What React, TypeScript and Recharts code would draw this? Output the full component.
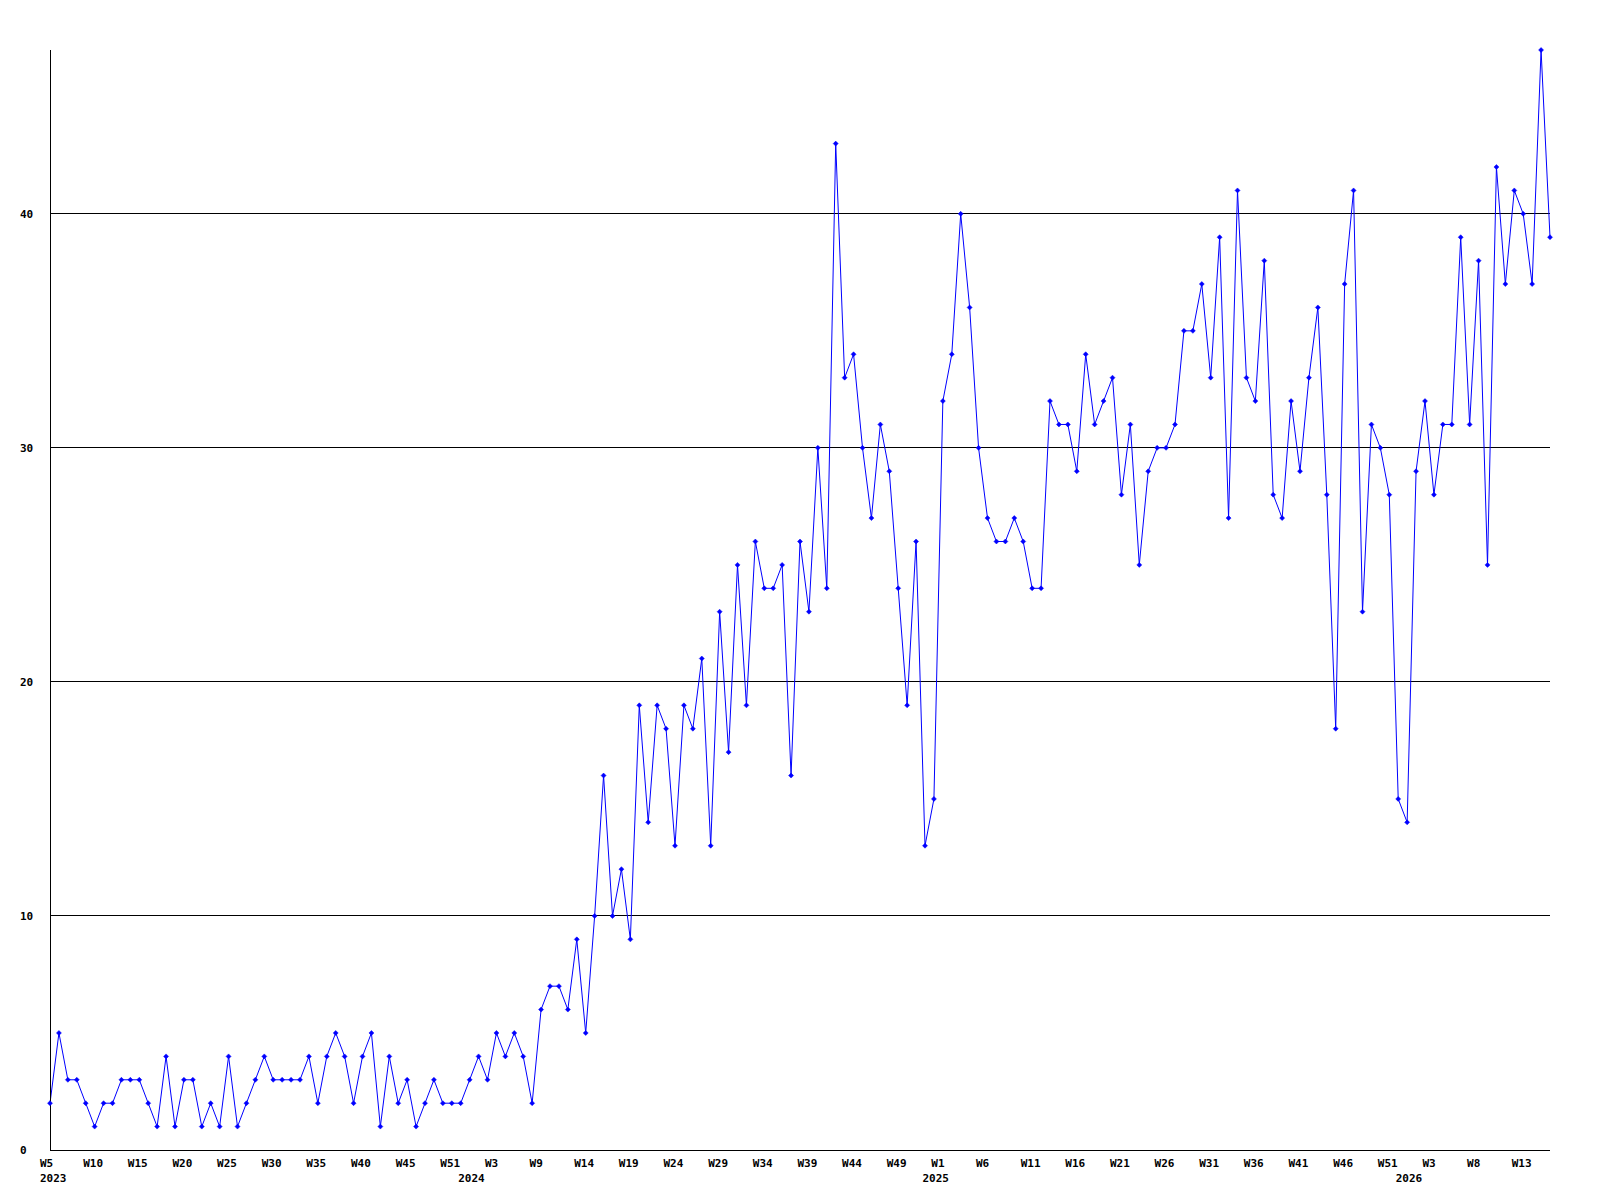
import React from 'react'
import { LineChart, Line, XAxis, YAxis, CartesianGrid } from 'recharts'

// weekly counts, 2023 W5 .. 2026 W17
const counts: number[] = [
  2, 5, 3, 3, 2, 1, 2, 2, 3, 3,
  3, 2, 1, 4, 1, 3, 3, 1, 2, 1,
  4, 1, 2, 3, 4, 3, 3, 3, 3, 4,
  2, 4, 5, 4, 2, 4, 5, 1, 4, 2,
  3, 1, 2, 3, 2, 2, 2, 3, 4, 3,
  5, 4, 5, 4, 2, 6, 7, 7, 6, 9,
  5, 10, 16, 10, 12, 9, 19, 14, 19, 18,
  13, 19, 18, 21, 13, 23, 17, 25, 19, 26,
  24, 24, 25, 16, 26, 23, 30, 24, 43, 33,
  34, 30, 27, 31, 29, 24, 19, 26, 13, 15,
  32, 34, 40, 36, 30, 27, 26, 26, 27, 26,
  24, 24, 32, 31, 31, 29, 34, 31, 32, 33,
  28, 31, 25, 29, 30, 30, 31, 35, 35, 37,
  33, 39, 27, 41, 33, 32, 38, 28, 27, 32,
  29, 33, 36, 28, 18, 37, 41, 23, 31, 30,
  28, 15, 14, 29, 32, 28, 31, 31, 39, 31,
  38, 25, 42, 37, 41, 40, 37, 47, 39,
]

// week labels, one every 5 points
const weekLabels: string[] = [
  'W5', 'W10', 'W15', 'W20', 'W25', 'W30', 'W35', 'W40', 'W45', 'W51',
  'W3', 'W9', 'W14', 'W19', 'W24', 'W29', 'W34', 'W39', 'W44', 'W49',
  'W1', 'W6', 'W11', 'W16', 'W21', 'W26', 'W31', 'W36', 'W41', 'W46',
  'W51', 'W3', 'W8', 'W13',
]

const years: string[] = ['2023', '2024', '2025', '2026']
const yearStarts: number[] = [0, 47, 99, 152]

const yTicks = [0, 10, 20, 30, 40]

const data = counts.map((v, i) => ({ i, v }))
const weekTicks = weekLabels.map((_, k) => k * 5)

const FONT = '"DejaVu Sans Mono", monospace'
const BLUE = '#0000ff'

const textStyle = { fontFamily: FONT, fontSize: 11, fontWeight: 'bold' as const, fill: '#000' }

const WeekTick = (props: any) => {
  const { x, y, payload } = props
  const k = Math.round(payload.value / 5)
  return (
    <text x={Math.max(x - 11.5, 32)} y={y + 17} textAnchor="start" style={textStyle}>
      {weekLabels[k]}
    </text>
  )
}

const YearTick = (props: any) => {
  const { x, y, payload } = props
  const k = yearStarts.indexOf(payload.value)
  return (
    <text x={Math.max(x - 11.5, 32)} y={y + 16} textAnchor="start" style={textStyle}>
      {years[k]}
    </text>
  )
}

const ValueTick = (props: any) => {
  const { x, y, payload } = props
  return (
    <text x={x - 30} y={y + 4} textAnchor="start" style={textStyle}>
      {payload.value}
    </text>
  )
}

const Marker = (props: any) => {
  const { cx, cy, index } = props
  if (cx == null || cy == null) return <g key={index} />
  const r = 2.5
  return (
    <path
      key={index}
      d={`M${cx},${cy - r}L${cx + r},${cy}L${cx},${cy + r}L${cx - r},${cy}Z`}
      fill={BLUE}
      stroke={BLUE}
      strokeWidth={0.5}
    />
  )
}

export default function App() {
  return (
    <div style={{ width: 1584, height: 1190 }}>
      <LineChart
        width={1584}
        height={1190}
        data={data}
        margin={{ top: 42, right: 42, bottom: 16, left: 0 }}
      >
        <CartesianGrid
          vertical={false}
          horizontalValues={yTicks}
          stroke="#000"
          strokeWidth={1}
          shapeRendering="crispEdges"
        />
        <XAxis
          dataKey="i"
          type="number"
          domain={[0, counts.length - 1]}
          ticks={weekTicks}
          interval={0}
          height={16}
          tickSize={0}
          tickMargin={0}
          tickLine={false}
          axisLine={{ stroke: '#000', strokeWidth: 1, shapeRendering: 'crispEdges' }}
          tick={<WeekTick />}
        />
        <XAxis
          xAxisId="year"
          dataKey="i"
          type="number"
          domain={[0, counts.length - 1]}
          ticks={yearStarts}
          interval={0}
          height={16}
          tickSize={0}
          tickMargin={0}
          tickLine={false}
          axisLine={false}
          tick={<YearTick />}
        />
        <YAxis
          type="number"
          domain={[0, 47]}
          ticks={yTicks}
          interval={0}
          width={42}
          tickSize={0}
          tickMargin={0}
          tickLine={false}
          axisLine={{ stroke: '#000', strokeWidth: 1, shapeRendering: 'crispEdges' }}
          tick={<ValueTick />}
        />
        <Line
          type="linear"
          dataKey="v"
          stroke={BLUE}
          strokeWidth={1}
          dot={<Marker />}
          activeDot={false}
          isAnimationActive={false}
        />
      </LineChart>
    </div>
  )
}
